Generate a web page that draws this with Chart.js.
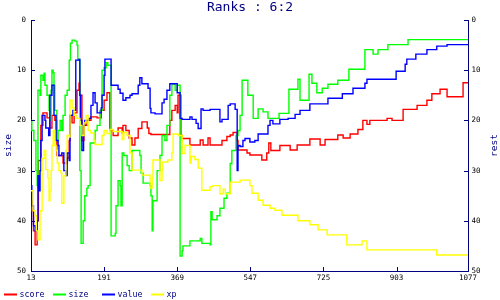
<!DOCTYPE html>
<html><head><meta charset="utf-8">
<script src="https://cdn.jsdelivr.net/npm/chart.js@4/dist/chart.umd.min.js"></script>
<style>html,body{margin:0;padding:0;background:#fff;}canvas{display:block;}</style>
</head><body>
<canvas id="c" width="500" height="300"></canvas>
<script>
const chartTitle = 'Ranks : 6:2';
const axisTitles = ['size', 'rest'];
const xTicks = [13, 191, 369, 547, 725, 903, 1077];
const yTicks = [0, 10, 20, 30, 40, 50];
const seriesNames = ['score', 'size', 'value', 'xp'];
const seriesColors = ['#ff0000', '#00ff00', '#0000ff', '#ffff00'];

const score = [[13,36],[15,38],[19,42],[23,44.8],[28,40],[31,28],[37,21],[42,18.5],[52,19.5],[59,21.5],[64,19],[71,20],[76,27],[91,28.5],[101,27.5],[106,24],[108,19],[113,20.5],[118,18.5],[125,14],[130,12.6],[132,15],[137,24],[142,21],[149,20],[159,19.3],[174,19.5],[184,18],[191,16],[198,14.5],[205,22],[213,23],[225,21.5],[235,22.5],[237,21],[244,22],[252,23.5],[259,24.9],[266,23.5],[274,21.6],[283,20.3],[296,21.5],[300,22.6],[305,22.8],[351,20],[356,18],[364,17],[369,18.5],[371,15],[378,23],[381,23.6],[400,24.9],[425,23.9],[432,24.9],[444,23.5],[449,24.9],[478,24],[490,23.2],[498,22.9],[505,22.4],[515,24],[517,25.9],[539,26.5],[546,26.9],[575,27.9],[587,26.5],[592,24.5],[597,26],[619,25],[644,25.9],[661,24.9],[692,23.7],[717,24.9],[729,23.8],[760,22.9],[773,23.5],[790,22.7],[809,21.8],[821,20],[831,20.8],[838,20],[880,19.6],[892,20],[919,17.8],[953,17],[977,16],[989,14.7],[1009,13.8],[1026,15.3],[1065,12.5],[1077,12.5]];

const size = [[13,20],[15,22],[20,24],[25,30],[28,33],[30,14],[35,15],[37,11],[42,12],[45,10.6],[47,13],[52,15],[57,18],[59,20],[62,14],[64,10],[67,10.5],[69,13],[71,18],[76,24],[79,22],[84,20],[88,22],[91,19],[96,15],[101,14],[106,8],[109,4.6],[113,4],[120,4.2],[125,5],[127,8],[132,30],[135,44.5],[140,40],[144,35],[149,33.5],[152,33],[157,24.5],[169,22],[174,21],[181,18],[186,10],[191,9.5],[196,8.5],[200,9],[208,43],[218,42.5],[220,37],[225,32],[230,33],[232,37],[235,26.5],[239,27],[247,29],[252,30],[259,26],[278,27],[281,30.5],[286,32.5],[303,33],[305,35],[308,42],[310,36],[320,30],[327,27],[332,23],[339,24],[344,21],[351,15],[356,12.8],[364,14],[369,13],[376,47],[381,46],[383,45],[400,44],[425,43.5],[429,44.5],[449,44.8],[451,38.2],[454,39.8],[466,39],[473,37.5],[483,35.5],[490,34.5],[498,28.6],[502,26],[512,23],[517,22],[522,19],[527,12],[541,15],[554,19.6],[566,17.7],[578,18.3],[590,19.6],[617,18.6],[641,13.8],[663,11.8],[668,16],[690,10.8],[697,12.6],[709,14.5],[722,13.6],[736,12.8],[760,12],[787,9.8],[826,5.9],[846,6.8],[858,5.9],[882,4.9],[931,3.9],[1077,3.9]];

const value = [[13,33],[15,37],[19,41],[23,42],[28,40],[30,31],[32,34],[35,30],[37,24],[40,19],[47,20],[49,21.5],[56,23],[59,15],[64,13],[69,19],[74,24],[79,25],[81,27],[88,26.5],[93,30],[98,31],[101,26.5],[106,28],[108,19],[115,18],[122,8],[130,7.8],[132,15],[134,20],[137,26],[141,21],[144,20],[154,19.6],[159,17],[164,14.5],[169,16.5],[174,18.5],[184,17.5],[186,15],[191,11],[193,7.8],[208,13],[225,13.8],[230,14.6],[237,16],[244,15.5],[254,15],[259,14.7],[274,13],[278,11.5],[283,12.7],[298,13.6],[303,17.6],[305,18.5],[315,18.7],[332,16.5],[337,15.8],[344,14],[351,12.7],[369,14.5],[376,19.6],[381,19.8],[400,19.3],[405,19.8],[415,20.6],[420,21.6],[427,17.7],[432,18],[449,17.8],[473,20.3],[478,19.8],[493,17],[498,16.7],[510,17.8],[515,30],[517,25],[522,25.2],[529,24],[534,23.6],[546,24.3],[558,24],[566,22.7],[590,21],[595,20],[602,20.7],[619,19.8],[639,19.6],[656,18.8],[668,18],[692,16.7],[736,15.6],[771,14.7],[797,13.6],[826,12.6],[831,11.8],[902,10.2],[924,8.8],[928,7.8],[950,6.8],[977,5.9],[1001,5.2],[1026,4.9],[1077,4.9]];

const xp = [[13,34],[18,38],[23,39],[26,42],[30,43.8],[35,38],[40,27.6],[45,26],[49,29.8],[54,31.5],[57,36],[59,34],[62,30],[64,25],[67,22],[71,25],[74,26],[77,28.5],[81,30],[86,30.5],[88,36.5],[93,31],[98,26],[101,23],[106,23.3],[108,16],[113,17.5],[118,19],[125,19.6],[132,21],[137,23],[142,20.5],[147,19],[152,22],[159,22.5],[166,24],[169,24.8],[186,23],[191,22],[198,22.6],[205,21.8],[213,22.2],[235,23.8],[239,22.4],[247,23],[254,26.5],[259,29.9],[283,30.9],[303,33.5],[308,31.5],[310,27.9],[327,32],[332,29.9],[334,28.3],[346,27.9],[356,26.5],[359,22.7],[371,23],[381,26.6],[388,25],[400,28.5],[403,27.2],[412,27.8],[420,29.5],[429,33.9],[449,33.2],[456,33],[473,34.6],[481,33.7],[486,34.6],[498,32.3],[522,31.9],[546,33],[551,34.5],[566,35.9],[578,36.9],[595,37.5],[607,37.9],[624,38.9],[663,40],[692,40.8],[712,41.8],[734,42.8],[782,44.8],[819,44],[831,45.8],[1001,46.8],[1077,46.8]];

const seriesData = [score, size, value, xp];
const NAVY = '#000080';
const MONO = 'DejaVu Sans Mono';

const extras = {
  id: 'extras',
  afterDraw(chart) {
    const ctx = chart.ctx;
    const a = chart.chartArea;
    const xs = chart.scales.x, yl = chart.scales.y, yr = chart.scales.y2;
    ctx.save();
    ctx.strokeStyle = NAVY; ctx.lineWidth = 1;
    ctx.beginPath();
    xTicks.forEach(v => { const p = Math.round(xs.getPixelForValue(v)) + 0.5; ctx.moveTo(p, a.bottom); ctx.lineTo(p, a.bottom - 4); });
    yTicks.forEach(v => {
      const p = Math.round(yl.getPixelForValue(v)) + 0.5; ctx.moveTo(a.left, p); ctx.lineTo(a.left + 4, p);
      const q = Math.round(yr.getPixelForValue(v)) + 0.5; ctx.moveTo(a.right, q); ctx.lineTo(a.right - 4, q);
    });
    ctx.stroke();
    ctx.fillStyle = NAVY; ctx.font = '9.5px ' + MONO; ctx.textAlign = 'center'; ctx.textBaseline = 'middle';
    const cy = (a.top + a.bottom) / 2;
    [[8.5, axisTitles[0]], [494.5, axisTitles[1]]].forEach(([x, t]) => {
      ctx.save(); ctx.translate(x, cy); ctx.rotate(-Math.PI / 2); ctx.fillText(t, 0, 0); ctx.restore();
    });
    ctx.font = '8.3px ' + MONO; ctx.textAlign = 'left';
    chart.data.datasets.forEach((ds, i) => {
      const x0 = 4 + 49 * i;
      ctx.strokeStyle = ds.borderColor; ctx.lineWidth = 2;
      ctx.beginPath(); ctx.moveTo(x0, 294.5); ctx.lineTo(x0 + 13, 294.5); ctx.stroke();
      ctx.fillStyle = NAVY; ctx.fillText(ds.label, x0 + 15.5, 294.5);
    });
    ctx.restore();
  }
};

const yScale = (pos, width, pad) => ({
  type: 'linear', position: pos, min: 0, max: 50, reverse: true,
  afterBuildTicks: s => { s.ticks = yTicks.map(v => ({ value: v })); },
  afterFit: s => { s.width = width; },
  grid: { display: false, drawTicks: false },
  border: { display: true, color: NAVY, width: 1 },
  ticks: { padding: pad, color: '#000', font: { family: MONO, size: 7.5 }, callback: v => String(v) }
});

new Chart(document.getElementById('c'), {
  type: 'line',
  data: {
    datasets: seriesData.map((d, i) => ({
      label: seriesNames[i],
      data: d.map(p => ({ x: p[0], y: p[1] })),
      borderColor: seriesColors[i],
      backgroundColor: seriesColors[i],
      borderWidth: 1.4,
      pointRadius: 0,
      stepped: true,
      fill: false,
      yAxisID: 'y',
      order: seriesData.length - i
    }))
  },
  options: {
    responsive: false,
    animation: false,
    devicePixelRatio: 1,
    layout: { padding: 0 },
    plugins: {
      legend: { display: false },
      tooltip: { enabled: false },
      title: { display: true, text: chartTitle, color: NAVY, font: { family: MONO, size: 13, weight: 'normal' }, padding: { top: 0, bottom: 4.4 } }
    },
    scales: {
      x: {
        type: 'linear', min: 13, max: 1077,
        afterBuildTicks: s => { s.ticks = xTicks.map(v => ({ value: v })); },
        afterFit: s => { s.height = 29; },
        grid: { display: false, drawTicks: false },
        border: { display: true, color: NAVY, width: 1 },
        ticks: { padding: 2.5, autoSkip: false, maxRotation: 0, color: '#000', font: { family: MONO, size: 7.5 }, callback: v => String(v) }
      },
      y: yScale('left', 31, 5),
      y2: yScale('right', 32, 3.5)
    }
  },
  plugins: [extras]
});
</script>
</body></html>
